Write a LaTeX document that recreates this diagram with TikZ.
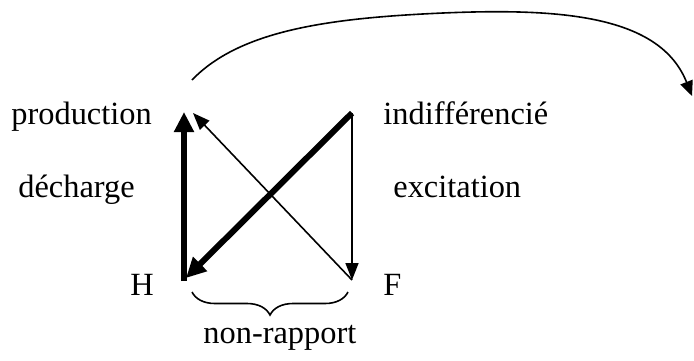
\documentclass[tikz,border=0pt]{standalone}
\usepackage{fontspec}
\setmainfont{Liberation Serif}
\usetikzlibrary{arrows.meta,decorations.pathreplacing}

\begin{document}
\begin{tikzpicture}[x=0.5pt,y=-0.5pt,
lbl/.style={anchor=base west,inner sep=0pt,font=\fontsize{16.2}{19}\selectfont},
thickarr/.style={-{Triangle[length=10pt,width=9.5pt]},line width=3pt},
thinarr/.style={-{Triangle[length=8.5pt,width=6.5pt]},line width=0.8pt},
curvarr/.style={-{Triangle[length=7.5pt,width=6.5pt]},line width=0.8pt}]
\useasboundingbox (0,0) rectangle (694,360);
% corners of the square
\coordinate (pt) at (184,112);
\coordinate (hb) at (184,281);
\coordinate (hd) at (186,278);
\coordinate (ft) at (352,113);
\coordinate (fb) at (352,280);
\coordinate (pd) at (193,113);
\coordinate (cs) at (192,80);
\coordinate (cm) at (443,13);
\coordinate (ce) at (692,96);
% labels
\node[lbl] (prod) at (11,124) {production};
\node[lbl] (dech) at (18,197) {décharge};
\node[lbl] (indif) at (383,124) {indifférencié};
\node[lbl] (excit) at (393,197) {excitation};
\node[lbl] (H) at (130,295) {H};
\node[lbl] (F) at (383,295) {F};
\node[lbl] (nonr) at (203,343) {non-rapport};
% arrows
\draw[thickarr] (hb) -- (pt);
\draw[thickarr] (ft) -- (hd);
\draw[thinarr] (fb) -- (pd);
\draw[thinarr] (ft) -- (fb);
\draw[curvarr] (cs) .. controls (240,30) and (330,18) .. (cm)
  .. controls (560,8) and (660,15) .. (ce);
% brace
\draw[line width=0.8pt,decorate,decoration={brace,mirror,amplitude=11.5pt}] (192,292) -- (348,292);
\end{tikzpicture}
\end{document}
